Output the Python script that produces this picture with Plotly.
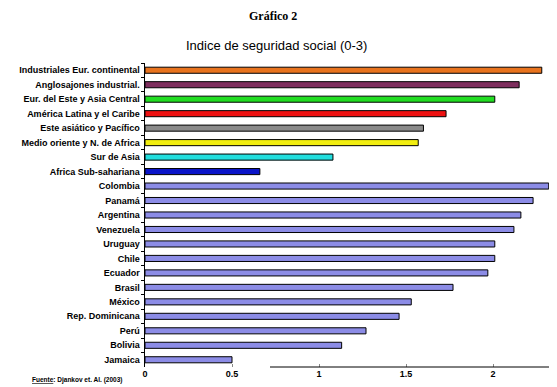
import plotly.graph_objects as go

categories = [
    "Industriales Eur. continental", "Anglosajones industrial.", "Eur. del Este y Asia Central",
    "América Latina y el Caribe", "Este asiático y Pacífico", "Medio oriente y N. de Africa",
    "Sur de Asia", "Africa Sub-sahariana", "Colombia", "Panamá", "Argentina", "Venezuela",
    "Uruguay", "Chile", "Ecuador", "Brasil", "México", "Rep. Dominicana", "Perú", "Bolivia", "Jamaica",
]
values = [2.28, 2.15, 2.01, 1.73, 1.60, 1.57, 1.08, 0.66, 2.32, 2.23, 2.16, 2.12,
          2.01, 2.01, 1.97, 1.77, 1.53, 1.46, 1.27, 1.13, 0.50]
colors = ["#E8731E", "#7E2E5E", "#22DD22", "#EE1111", "#8A8A8A", "#F2EE10", "#22DDDD",
          "#0A14C8"] + ["#8C8CE6"] * 13
x_ticks = [0, 0.5, 1, 1.5, 2]
x_tick_labels = ["0", "0.5", "1", "1.5", "2"]

# page body has an 8px default margin; shrink figure so it fits the window
OFF = 8
W, H = 557 - OFF, 387 - OFF
L, R, T, B = 145 - OFF, 6, 63 - OFF, 20

fig = go.Figure(go.Bar(
    y=categories, x=values, orientation="h",
    marker=dict(color=colors, line=dict(color="black", width=1)),
    width=0.42,
))

pw = W - L - R
ph = H - T - B
def px(x):
    return (x - OFF - L) / pw
def py(y):
    return (H - B - (y - OFF)) / ph

fig.update_layout(
    width=W, height=H,
    margin=dict(l=L, r=R, t=T, b=B, autoexpand=False),
    paper_bgcolor="white", plot_bgcolor="white",
    showlegend=False,
    font=dict(family="Liberation Sans, Arial", color="black"),
    annotations=[
        dict(text="<b>Gráfico 2</b>", x=px(273), y=py(16), xref="paper", yref="paper",
             showarrow=False, xanchor="center", yanchor="middle",
             font=dict(family="Liberation Serif, Times New Roman", size=12)),
        dict(text="Indice de seguridad social (0-3)", x=px(276), y=py(45), xref="paper",
             yref="paper", showarrow=False, xanchor="center", yanchor="middle",
             font=dict(size=13)),
        dict(text="<b><u>Fuente</u>: Djankov et. Al. (2003)</b>", x=px(30), y=py(380),
             xref="paper", yref="paper", showarrow=False, xanchor="left", yanchor="middle",
             font=dict(size=6.5)),
    ],
)

fig.update_yaxes(
    autorange="reversed", showline=True, linecolor="black", linewidth=1,
    ticks="outside", tickson="boundaries", ticklen=3, tickcolor="black",
    tickfont=dict(size=9, family="Liberation Sans, Arial", weight="bold"),
    showgrid=False, zeroline=False, ticksuffix=" ", automargin=False,
)
fig.update_xaxes(
    range=[0, 2.333], tickvals=x_ticks, ticktext=x_tick_labels,
    ticks="inside", ticklen=3, tickcolor="#888",
    tickfont=dict(size=9, family="Liberation Sans, Arial", weight="bold"),
    showgrid=False, zeroline=False, showline=False, automargin=False,
)
fig.add_shape(type="line", xref="paper", yref="paper", x0=px(270), x1=1.0, y0=0, y1=0,
              line=dict(color="black", width=1))

fig.write_html("out.html")
